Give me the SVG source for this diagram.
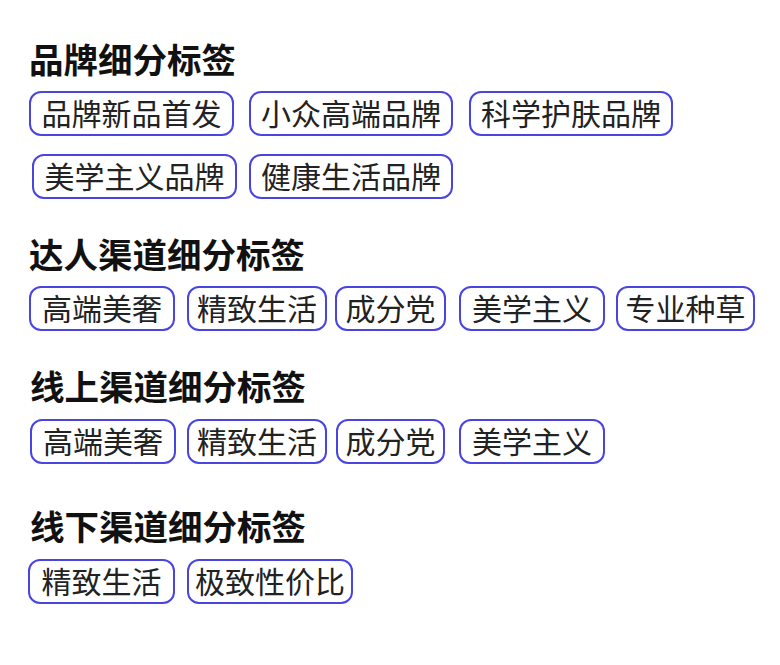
<svg xmlns="http://www.w3.org/2000/svg" width="780" height="665" viewBox="0 0 780 665">
<style>
.h{font-family:"Noto Sans CJK SC","Noto Sans",sans-serif;font-weight:700;font-size:34.5px;fill:#111}
.t rect{fill:#fff;stroke:#4a44e0;stroke-width:2}
.t text{font-family:"Noto Sans CJK SC","Noto Sans",sans-serif;font-size:30px;fill:#222;text-anchor:middle}
</style>
<rect width="780" height="665" fill="#fff"/>
<g id="h1"><text class="h" x="29" y="73">品牌细分标签</text></g>
<g id="b1" class="t"><rect x="30" y="92" width="203" height="43" rx="11"/><text x="131.5" y="124.5">品牌新品首发</text></g>
<g id="b2" class="t"><rect x="250" y="92" width="202" height="43" rx="11"/><text x="351" y="124.5">小众高端品牌</text></g>
<g id="b3" class="t"><rect x="470" y="92" width="202" height="43" rx="11"/><text x="571" y="124.5">科学护肤品牌</text></g>
<g id="b4" class="t"><rect x="33" y="155" width="203" height="43" rx="11"/><text x="134.5" y="187.5">美学主义品牌</text></g>
<g id="b5" class="t"><rect x="250" y="155" width="202" height="43" rx="11"/><text x="351" y="187.5">健康生活品牌</text></g>

<g id="h2"><text class="h" x="29" y="268">达人渠道细分标签</text></g>
<g id="d1" class="t"><rect x="30" y="287" width="144" height="43" rx="11"/><text x="102" y="319.5">高端美奢</text></g>
<g id="d2" class="t"><rect x="188" y="287" width="138" height="43" rx="11"/><text x="257" y="319.5">精致生活</text></g>
<g id="d3" class="t"><rect x="336" y="287" width="109" height="43" rx="11"/><text x="390.5" y="319.5">成分党</text></g>
<g id="d4" class="t"><rect x="460" y="287" width="144" height="43" rx="11"/><text x="532" y="319.5">美学主义</text></g>
<g id="d5" class="t"><rect x="617" y="287" width="137" height="43" rx="11"/><text x="685.5" y="319.5">专业种草</text></g>

<g id="h3"><text class="h" x="30" y="400">线上渠道细分标签</text></g>
<g id="o1" class="t"><rect x="31" y="420" width="144" height="43" rx="11"/><text x="103" y="452.5">高端美奢</text></g>
<g id="o2" class="t"><rect x="188" y="420" width="138" height="43" rx="11"/><text x="257" y="452.5">精致生活</text></g>
<g id="o3" class="t"><rect x="337" y="420" width="107" height="43" rx="11"/><text x="390.5" y="452.5">成分党</text></g>
<g id="o4" class="t"><rect x="460" y="420" width="144" height="43" rx="11"/><text x="532" y="452.5">美学主义</text></g>

<g id="h4"><text class="h" x="30" y="540">线下渠道细分标签</text></g>
<g id="f1" class="t"><rect x="29" y="560" width="145" height="43" rx="11"/><text x="101.5" y="592.5">精致生活</text></g>
<g id="f2" class="t"><rect x="188" y="560" width="164" height="43" rx="11"/><text x="270" y="592.5">极致性价比</text></g>
</svg>
